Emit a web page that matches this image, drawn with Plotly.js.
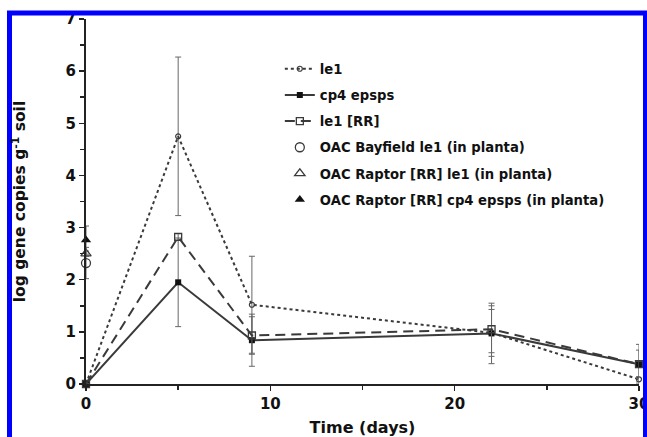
<!DOCTYPE html>
<html><head><meta charset="utf-8">
<script src="https://cdn.plot.ly/plotly-3.0.1.min.js"></script>
<style>html,body{margin:0;padding:0;background:#fff}#chart{width:647px;height:437px}</style>
</head><body><div id="chart"></div>
<script>
const days = [0, 5, 9, 22, 30];
const le1 = [0, 4.75, 1.52, 0.98, 0.09];
const le1Err = [0, 1.52, 0.93, 0.45, 0.05];
const cp4 = [0, 1.95, 0.84, 0.97, 0.38];
const cp4Err = [0, 0.85, 0.5, 0.58, 0.27];
const le1RR = [0, 2.82, 0.93, 1.05, 0.38];
const le1RRErr = [0, 0.06, 0.36, 0.45, 0.38];
const plantaDay = [0];
const bayfieldLe1 = [2.32];
const bayfieldLe1Err = [0.3];
const raptorLe1 = [2.5];
const raptorLe1Err = [0.05];
const raptorCp4 = [2.76];
const raptorCp4Err = [0.27];
const names = ['le1', 'cp4 epsps', 'le1 [RR]', 'OAC Bayfield le1 (in planta)', 'OAC Raptor [RR] le1 (in planta)', 'OAC Raptor [RR] cp4 epsps (in planta)'];

const dark = '#3a3a3a';
const errStyle = (arr) => ({type: 'data', array: arr, visible: true, color: '#666', thickness: 1, width: 3});

const traces = [
  {x: days, y: le1, name: names[0], mode: 'lines+markers', error_y: errStyle(le1Err),
   line: {color: dark, width: 2, dash: 'dot'}, marker: {symbol: 'circle-open', size: 5, color: dark, line: {width: 1.2}}},
  {x: days, y: cp4, name: names[1], mode: 'lines+markers', error_y: errStyle(cp4Err),
   line: {color: dark, width: 2, dash: 'solid'}, marker: {symbol: 'square', size: 6, color: '#111'}},
  {x: days, y: le1RR, name: names[2], mode: 'lines+markers', error_y: errStyle(le1RRErr),
   line: {color: dark, width: 2, dash: '10px,6px'}, marker: {symbol: 'square-open', size: 7, color: dark, line: {width: 1.3}}},
  {x: plantaDay, y: bayfieldLe1, name: names[3], mode: 'markers', error_y: errStyle(bayfieldLe1Err),
   marker: {symbol: 'circle-open', size: 9, color: dark, line: {width: 1.3}}},
  {x: plantaDay, y: raptorLe1, name: names[4], mode: 'markers', error_y: errStyle(raptorLe1Err),
   marker: {symbol: 'triangle-up-open', size: 9, color: dark, line: {width: 1.3}}},
  {x: plantaDay, y: raptorCp4, name: names[5], mode: 'markers', error_y: errStyle(raptorCp4Err),
   marker: {symbol: 'triangle-up', size: 9, color: '#111'}}
];
traces.forEach((t, i) => { t.cliponaxis = false; t.legendgroup = 'g' + i; t.type = 'scatter'; });

const axFont = {family: 'DejaVu Sans', size: 15, color: '#111', weight: 'bold'};
const layout = {
  width: 647, height: 437,
  margin: {l: 86, r: 8, t: 19, b: 53},
  paper_bgcolor: '#fff', plot_bgcolor: '#fff',
  font: {family: 'DejaVu Sans', color: '#111'},
  showlegend: true,
  legend: {x: 0.3505, y: 0.905, xanchor: 'left', yanchor: 'top', bgcolor: 'rgba(0,0,0,0)',
    font: {family: 'DejaVu Sans', size: 13.2, color: '#111', weight: 'bold'},
    tracegroupgap: 6, itemwidth: 30, traceorder: 'grouped'},
  xaxis: {range: [0, 30], tickvals: [0, 10, 20, 30], ticktext: ['0', '10', '20', '30'],
    showline: true, linecolor: '#222', linewidth: 2, showgrid: false, zeroline: false,
    ticks: 'outside', ticklen: 5, tickwidth: 1.5, tickcolor: '#222', tickfont: axFont,
    ticklabeloverflow: 'allow',
    minor: {tickvals: [5, 15, 25], ticks: 'outside', ticklen: 4, tickwidth: 1.5, tickcolor: '#222', showgrid: false},
    title: {text: 'Time (days)', font: {family: 'DejaVu Sans', size: 16, color: '#111', weight: 'bold'}, standoff: 14}},
  yaxis: {range: [0, 7], dtick: 1, tick0: 0,
    showline: true, linecolor: '#222', linewidth: 2, showgrid: false, zeroline: false,
    ticks: 'outside', ticklen: 5, tickwidth: 1.5, tickcolor: '#222', tickfont: axFont,
    ticklabeloverflow: 'allow',
    minor: {dtick: 0.5, ticks: 'outside', ticklen: 4, tickwidth: 1.5, tickcolor: '#222', showgrid: false},
    title: {text: 'log gene copies g<sup>-1</sup> soil', font: {family: 'DejaVu Sans', size: 15.5, color: '#111', weight: 'bold'}, standoff: 36}},
  shapes: [
    {type: 'path', xref: 'paper', yref: 'paper', layer: 'above',
     path: 'M' + ((9.5 - 86) / 553) + ',' + ((384 - 460) / 365) +
           ' L' + ((9.5 - 86) / 553) + ',' + ((384 - 13) / 365) +
           ' L' + ((645.5 - 86) / 553) + ',' + ((384 - 13) / 365) +
           ' L' + ((645.5 - 86) / 553) + ',' + ((384 - 460) / 365),
     line: {color: '#0000ff', width: 5}}
  ]
};
Plotly.newPlot('chart', traces, layout, {displayModeBar: false, staticPlot: true});
</script></body></html>
